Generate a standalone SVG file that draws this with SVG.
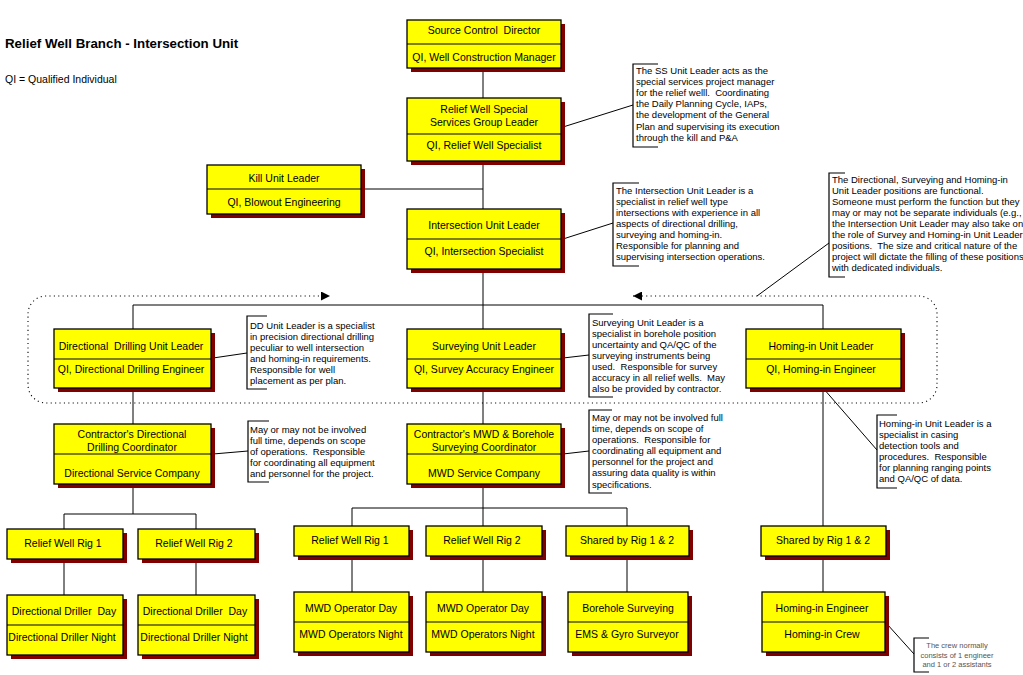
<svg xmlns="http://www.w3.org/2000/svg" width="1023" height="675" viewBox="0 0 1023 675">
<style>
.bg{fill:#ffffff}
.sh{fill:#800000}
.bx{fill:#ffff00;stroke:#000;stroke-width:1.3}
.dv{stroke:#000;stroke-width:1.2}
.t{font-family:"Liberation Sans",Arial,sans-serif;font-size:10.5px;text-anchor:middle;fill:#000}
.n{font-family:"Liberation Sans",Arial,sans-serif;font-size:9.5px;fill:#000}
.cr{font-family:"Liberation Sans",Arial,sans-serif;font-size:7.5px;fill:#555;text-anchor:middle}
.ln{stroke:#000;stroke-width:1;fill:none}
.br{stroke:#000;stroke-width:1.2;fill:none}
.dot{stroke:#000;stroke-width:1.1;fill:none;stroke-dasharray:1.1 3.3}
.ttl{font-family:"Liberation Sans",Arial,sans-serif;font-size:13.3px;font-weight:bold;fill:#000}
.sub{font-family:"Liberation Sans",Arial,sans-serif;font-size:10.5px;fill:#000}
</style>
<defs>
<marker id="ah" viewBox="0 0 10 10" refX="10" refY="5" markerWidth="9" markerHeight="9" markerUnits="userSpaceOnUse" orient="auto-start-reverse">
<path d="M0,0 L10,5 L0,10 z" fill="#000"/>
</marker>
</defs>
<rect class="bg" x="0" y="0" width="1023" height="675"/>
<text class="ttl" x="5" y="48">Relief Well Branch - Intersection Unit</text>
<text class="sub" x="5" y="83">QI = Qualified Individual</text>

<g id="connectors">
<path class="ln" d="M483,68 V98 M483,161 V209 M483,269 V329 M361,189 H483 M133,305 H823 M133,305 V329 M823,305 V329"/>
<path class="ln" d="M133,388 V424 M483,388 V424 M823,388 V526"/>
<path class="ln" d="M133,484 V514 M64,514 H196 M64,514 V529 M196,514 V529 M64,559 V595 M196,559 V595"/>
<path class="ln" d="M483,484 V508 M352,508 H627 M352,508 V526 M483,508 V526 M627,508 V526 M352,556 V592 M483,556 V592 M627,556 V592 M823,556 V592"/>
<path class="ln" d="M563,127 L633,105 M563,239 L613,223 M829,243 L757,296 M213,358 L247,353 M563,358 L589,355 M213,454 L248,451 M563,454 L589,451 M823,388 L877,450 M887,624 L914,654"/>
<path class="dot" d="M633,296 H919 A18,18 0 0 1 937,314 V385 A18,18 0 0 1 919,403 H46 A18,18 0 0 1 28,385 V314 A18,18 0 0 1 46,296 H330" marker-start="url(#ah)" marker-end="url(#ah)"/>
</g>

<g id="src">
<rect class="sh" x="411" y="24" width="154" height="48"/>
<rect class="bx" x="407" y="20" width="154" height="48"/>
<line class="dv" x1="407" y1="44" x2="561" y2="44"/>
<text class="t" x="484" y="34">Source Control&#160; Director</text>
<text class="t" x="484" y="61">QI, Well Construction Manager</text>
</g>
<g id="rwssgl">
<rect class="sh" x="411" y="102" width="154" height="63"/>
<rect class="bx" x="407" y="98" width="154" height="63"/>
<line class="dv" x1="407" y1="134" x2="561" y2="134"/>
<text class="t" x="484" y="113">Relief Well Special</text>
<text class="t" x="484" y="126">Services Group Leader</text>
<text class="t" x="484" y="149">QI, Relief Well Specialist</text>
</g>
<g id="kill">
<rect class="sh" x="211" y="169" width="154" height="49"/>
<rect class="bx" x="207" y="165" width="154" height="49"/>
<line class="dv" x1="207" y1="189" x2="361" y2="189"/>
<text class="t" x="284" y="182">Kill Unit Leader</text>
<text class="t" x="284" y="206">QI, Blowout Engineering</text>
</g>
<g id="isect">
<rect class="sh" x="411" y="213" width="154" height="60"/>
<rect class="bx" x="407" y="209" width="154" height="60"/>
<line class="dv" x1="407" y1="239" x2="561" y2="239"/>
<text class="t" x="484" y="229">Intersection Unit Leader</text>
<text class="t" x="484" y="255">QI, Intersection Specialist</text>
</g>
<g id="ddul">
<rect class="sh" x="58" y="333" width="157" height="59"/>
<rect class="bx" x="54" y="329" width="157" height="59"/>
<line class="dv" x1="54" y1="359" x2="211" y2="359"/>
<text class="t" x="131" y="350">Directional&#160; Drilling Unit Leader</text>
<text class="t" x="131" y="373">QI, Directional Drilling Engineer</text>
</g>
<g id="svul">
<rect class="sh" x="411" y="333" width="154" height="59"/>
<rect class="bx" x="407" y="329" width="154" height="59"/>
<line class="dv" x1="407" y1="359" x2="561" y2="359"/>
<text class="t" x="484" y="350">Surveying Unit Leader</text>
<text class="t" x="484" y="373">QI, Survey Accuracy Engineer</text>
</g>
<g id="hiul">
<rect class="sh" x="750" y="333" width="155" height="59"/>
<rect class="bx" x="746" y="329" width="155" height="59"/>
<line class="dv" x1="746" y1="359" x2="901" y2="359"/>
<text class="t" x="821" y="350">Homing-in Unit Leader</text>
<text class="t" x="821" y="373">QI, Homing-in Engineer</text>
</g>
<g id="cddc">
<rect class="sh" x="58" y="428" width="157" height="60"/>
<rect class="bx" x="54" y="424" width="157" height="60"/>
<line class="dv" x1="54" y1="454" x2="211" y2="454"/>
<text class="t" x="132" y="438">Contractor's Directional</text>
<text class="t" x="132" y="451">Drilling Coordinator</text>
<text class="t" x="132" y="477">Directional Service Company</text>
</g>
<g id="cmwd">
<rect class="sh" x="411" y="428" width="154" height="60"/>
<rect class="bx" x="407" y="424" width="154" height="60"/>
<line class="dv" x1="407" y1="454" x2="561" y2="454"/>
<text class="t" x="484" y="438">Contractor's MWD &amp; Borehole</text>
<text class="t" x="484" y="451">Surveying Coordinator</text>
<text class="t" x="484" y="477">MWD Service Company</text>
</g>
<g id="rig1a">
<rect class="sh" x="11" y="533" width="116" height="30"/>
<rect class="bx" x="7" y="529" width="116" height="30"/>
<text class="t" x="63" y="547">Relief Well Rig 1</text>
</g>
<g id="rig2a">
<rect class="sh" x="142" y="533" width="117" height="30"/>
<rect class="bx" x="138" y="529" width="117" height="30"/>
<text class="t" x="194" y="547">Relief Well Rig 2</text>
</g>
<g id="rig1b">
<rect class="sh" x="298" y="530" width="115" height="30"/>
<rect class="bx" x="294" y="526" width="115" height="30"/>
<text class="t" x="350" y="544">Relief Well Rig 1</text>
</g>
<g id="rig2b">
<rect class="sh" x="430" y="530" width="116" height="30"/>
<rect class="bx" x="426" y="526" width="116" height="30"/>
<text class="t" x="482" y="544">Relief Well Rig 2</text>
</g>
<g id="shared1">
<rect class="sh" x="570" y="530" width="123" height="30"/>
<rect class="bx" x="566" y="526" width="123" height="30"/>
<text class="t" x="627" y="544">Shared by Rig 1 &amp; 2</text>
</g>
<g id="shared2">
<rect class="sh" x="765" y="530" width="125" height="30"/>
<rect class="bx" x="761" y="526" width="125" height="30"/>
<text class="t" x="823" y="544">Shared by Rig 1 &amp; 2</text>
</g>
<g id="dd1">
<rect class="sh" x="11" y="599" width="116" height="60"/>
<rect class="bx" x="7" y="595" width="116" height="60"/>
<line class="dv" x1="7" y1="625" x2="123" y2="625"/>
<text class="t" x="64" y="615">Directional Driller&#160; Day</text>
<text class="t" x="62" y="641">Directional Driller Night</text>
</g>
<g id="dd2">
<rect class="sh" x="142" y="599" width="117" height="60"/>
<rect class="bx" x="138" y="595" width="117" height="60"/>
<line class="dv" x1="138" y1="625" x2="255" y2="625"/>
<text class="t" x="195" y="615">Directional Driller&#160; Day</text>
<text class="t" x="194" y="641">Directional Driller Night</text>
</g>
<g id="mwd1">
<rect class="sh" x="298" y="596" width="115" height="60"/>
<rect class="bx" x="294" y="592" width="115" height="60"/>
<line class="dv" x1="294" y1="622" x2="409" y2="622"/>
<text class="t" x="351" y="612">MWD Operator Day</text>
<text class="t" x="351" y="638">MWD Operators Night</text>
</g>
<g id="mwd2">
<rect class="sh" x="430" y="596" width="116" height="60"/>
<rect class="bx" x="426" y="592" width="116" height="60"/>
<line class="dv" x1="426" y1="622" x2="542" y2="622"/>
<text class="t" x="483" y="612">MWD Operator Day</text>
<text class="t" x="483" y="638">MWD Operators Night</text>
</g>
<g id="bs">
<rect class="sh" x="572" y="596" width="120" height="60"/>
<rect class="bx" x="568" y="592" width="120" height="60"/>
<line class="dv" x1="568" y1="622" x2="688" y2="622"/>
<text class="t" x="628" y="612">Borehole Surveying</text>
<text class="t" x="627" y="638">EMS &amp; Gyro Surveyor</text>
</g>
<g id="hie">
<rect class="sh" x="766" y="596" width="123" height="60"/>
<rect class="bx" x="762" y="592" width="123" height="60"/>
<line class="dv" x1="762" y1="622" x2="885" y2="622"/>
<text class="t" x="822" y="612">Homing-in Engineer</text>
<text class="t" x="822" y="638">Homing-in Crew</text>
</g>

<g id="note-ss">
<path class="br" d="M658,64 H633 V147 H658"/>
<text class="n" x="636" y="74">The SS Unit Leader acts as the</text>
<text class="n" x="636" y="85">special services project manager</text>
<text class="n" x="636" y="96">for the relief welll.&#160; Coordinating</text>
<text class="n" x="636" y="107">the Daily Planning Cycle, IAPs,</text>
<text class="n" x="636" y="118">the development of the General</text>
<text class="n" x="636" y="130">Plan and supervising its execution</text>
<text class="n" x="636" y="141">through the kill and P&amp;A</text>
</g>
<g id="note-isect">
<path class="br" d="M639,183 H613 V266 H639"/>
<text class="n" x="616" y="194">The Intersection Unit Leader is a</text>
<text class="n" x="616" y="205">specialist in relief well type</text>
<text class="n" x="616" y="216">intersections with experience in all</text>
<text class="n" x="616" y="227">aspects of directional drilling,</text>
<text class="n" x="616" y="238">surveying and homing-in.</text>
<text class="n" x="616" y="249">Responsible for planning and</text>
<text class="n" x="616" y="260">supervising intersection operations.</text>
</g>
<g id="note-func">
<path class="br" d="M845,173 H829 V277 H845"/>
<text class="n" x="832" y="183">The Directional, Surveying and Homing-in</text>
<text class="n" x="832" y="194">Unit Leader positions are functional.</text>
<text class="n" x="832" y="205">Someone must perform the function but they</text>
<text class="n" x="832" y="216">may or may not be separate individuals (e.g.,</text>
<text class="n" x="832" y="227">the Intersection Unit Leader may also take on</text>
<text class="n" x="832" y="238">the role of Survey and Homing-in Unit Leader</text>
<text class="n" x="832" y="249">positions.&#160; The size and critical nature of the</text>
<text class="n" x="832" y="260">project will dictate the filling of these positions</text>
<text class="n" x="832" y="271">with dedicated individuals.</text>
</g>
<g id="note-dd">
<path class="br" d="M267,316 H247 V389 H267"/>
<text class="n" x="250" y="329">DD Unit Leader is a specialist</text>
<text class="n" x="250" y="340">in precision directional drilling</text>
<text class="n" x="250" y="351">peculiar to well intersection</text>
<text class="n" x="250" y="362">and homing-in requirements.</text>
<text class="n" x="250" y="373">Responsible for well</text>
<text class="n" x="250" y="384">placement as per plan.</text>
</g>
<g id="note-surv">
<path class="br" d="M613,314 H589 V397 H613"/>
<text class="n" x="592" y="326">Surveying Unit Leader is a</text>
<text class="n" x="592" y="337">specialist in borehole position</text>
<text class="n" x="592" y="348">uncertainty and QA/QC of the</text>
<text class="n" x="592" y="359">surveying instruments being</text>
<text class="n" x="592" y="370">used.&#160; Responsible for survey</text>
<text class="n" x="592" y="381">accuracy in all relief wells.&#160; May</text>
<text class="n" x="592" y="392">also be provided by contractor.</text>
</g>
<g id="note-cddc">
<path class="br" d="M269,421 H248 V482 H269"/>
<text class="n" x="250" y="433">May or may not be involved</text>
<text class="n" x="250" y="444">full time, depends on scope</text>
<text class="n" x="250" y="455">of operations.&#160; Responsible</text>
<text class="n" x="250" y="466">for coordinating all equipment</text>
<text class="n" x="250" y="477">and personnel for the project.</text>
</g>
<g id="note-cmwd">
<path class="br" d="M612,410 H589 V493 H612"/>
<text class="n" x="592" y="421">May or may not be involved full</text>
<text class="n" x="592" y="432">time, depends on scope of</text>
<text class="n" x="592" y="443">operations.&#160; Responsible for</text>
<text class="n" x="592" y="454">coordinating all equipment and</text>
<text class="n" x="592" y="465">personnel for the project and</text>
<text class="n" x="592" y="476">assuring data quality is within</text>
<text class="n" x="592" y="488">specifications.</text>
</g>
<g id="note-hiul">
<path class="br" d="M897,415 H877 V488 H897"/>
<text class="n" x="879" y="427">Homing-in Unit Leader is a</text>
<text class="n" x="879" y="438">specialist in casing</text>
<text class="n" x="879" y="449">detection tools and</text>
<text class="n" x="879" y="460">procedures.&#160; Responsible</text>
<text class="n" x="879" y="471">for planning ranging points</text>
<text class="n" x="879" y="482">and QA/QC of data.</text>
</g>
<g id="note-crew">
<path class="br" d="M929,638 H914 V672 H929"/>
<text class="cr" x="957" y="648">The crew normally</text>
<text class="cr" x="957" y="658">consists of 1 engineer</text>
<text class="cr" x="957" y="667">and 1 or 2 assistants</text>
</g>
</svg>
